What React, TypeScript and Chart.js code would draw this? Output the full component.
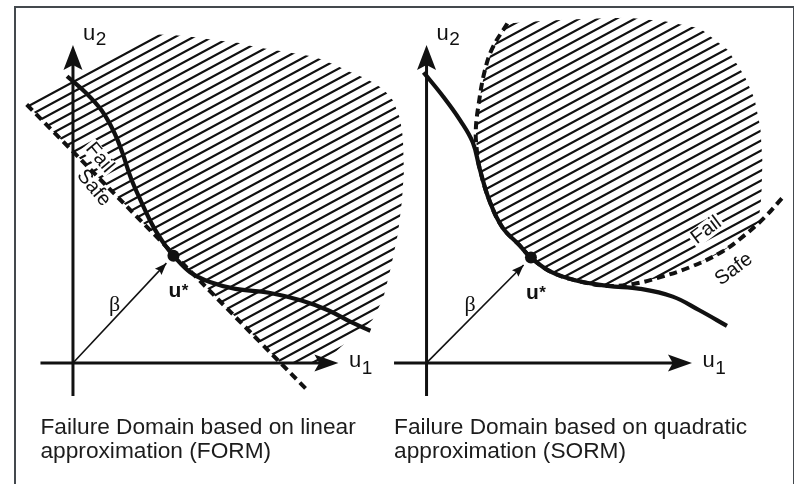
import React, { useEffect, useRef } from "react";
import { Chart, registerables } from "chart.js";

Chart.register(...registerables);

const W = 794;
const H = 484;
const INK = "#111111";
const SANS = '"Liberation Sans", Arial, Helvetica, sans-serif';
const SERIF = '"Liberation Serif", "DejaVu Serif", serif';

// ---------- shared axes (standard normal space u1, u2) ----------
const axisU1Range = [-3.3, 26.95];
const axisU2Range = [-3.4, 32.6];
const betaFraction = 0.93;
const yWindow = [-11.8, 36.6];

// ---------- left panel: FORM ----------
const formXWindow = [-6.8, 72.6];
const formLimitU1 = [-0.6, 1.2, 2.9, 4.2, 5.0, 5.9, 6.9, 8.2, 9.4, 10.2, 11.9, 13.9, 16.5, 19.9, 23.2, 25.9, 28.2, 30.2];
const formLimitU2 = [29.4, 27.8, 25.9, 23.6, 21.6, 18.9, 16.6, 13.9, 12.0, 11.0, 9.3, 8.3, 7.6, 7.2, 6.4, 5.4, 4.2, 3.3];
const formApproxU1 = [-4.7, 23.7];
const formApproxU2 = [26.5, -2.7];
const formDesign = [10.2, 11.0];
const formHatchU1 = [-4.9, 8.1, 10.4, 12.4, 14.5, 16.9, 18.5, 21.5, 24.5, 26.5, 28.2, 29.9, 31.5, 32.5, 33.2, 33.5, 33.6, 33.4, 33.0, 32.3, 31.5, 30.4, 27.7, 25.4, 21.1];
const formHatchU2 = [26.7, 33.7, 33.6, 33.4, 33.1, 32.8, 32.4, 31.9, 31.4, 30.6, 29.8, 29.1, 28.1, 26.9, 25.1, 23.1, 19.6, 16.6, 13.3, 9.9, 6.6, 4.4, 2.1, 0.0, 0.0];
const formFailAt = [2.7, 21.05];
const formSafeAt = [2.1, 17.95];
const formCaption = ["Failure Domain based on linear", "approximation (FORM)"];

// ---------- right panel: SORM ----------
const sormXWindow = [-42.7, 36.7];
const sormLimitU1 = [-0.3, 1.7, 3.4, 4.7, 5.4, 6.4, 7.7, 9.4, 10.6, 12.7, 15.4, 18.4, 21.7, 25.0, 27.7, 30.5];
const sormLimitU2 = [29.8, 27.3, 24.9, 22.6, 19.9, 16.6, 13.9, 12.1, 10.8, 9.3, 8.4, 7.9, 7.6, 6.8, 5.4, 3.8];
const sormApproxU1 = [8.2, 6.7, 5.9, 5.3, 5.0, 5.1, 5.4, 6.4, 7.7, 9.4, 10.6, 12.7, 15.4, 18.4, 21.0, 23.4, 26.7, 30.0, 32.3, 34.3, 36.1];
const sormApproxU2 = [34.8, 32.3, 29.9, 26.6, 23.9, 21.9, 19.9, 16.6, 13.9, 12.1, 10.8, 9.3, 8.4, 7.9, 8.1, 8.7, 9.8, 11.4, 13.1, 14.9, 16.9];
const sormDesign = [10.6, 10.8];
const sormOuterU1 = [33.7, 34.0, 34.1, 33.9, 33.3, 32.3, 30.6, 27.8, 24.3, 20.5, 16.3, 12.0];
const sormOuterU2 = [14.4, 17.1, 20.6, 24.1, 27.1, 29.4, 32.1, 34.3, 35.0, 35.4, 35.3, 35.1];
const sormFailAt = [28.4, 13.6];
const sormSafeAt = [31.2, 9.6];
const sormCaption = ["Failure Domain based on quadratic", "approximation (SORM)"];

// ---------- labels ----------
const u1Label = ["u", "1"];
const u2Label = ["u", "2"];
const betaLabel = "\u03B2";
const designLabel = ["u", "*"];
const failLabel = "Fail";
const safeLabel = "Safe";

type PanelCfg = {
  key: string;
  xWindow: number[];
  limitU1: number[];
  limitU2: number[];
  approxU1: number[];
  approxU2: number[];
  design: number[];
  hatchU1: number[];
  hatchU2: number[];
  failAt: number[];
  safeAt: number[];
  labelAngle: number;
  caption: string[];
};

const formCfg: PanelCfg = {
  key: "form",
  xWindow: formXWindow,
  limitU1: formLimitU1,
  limitU2: formLimitU2,
  approxU1: formApproxU1,
  approxU2: formApproxU2,
  design: formDesign,
  hatchU1: formHatchU1,
  hatchU2: formHatchU2,
  failAt: formFailAt,
  safeAt: formSafeAt,
  labelAngle: 50,
  caption: formCaption,
};

const sormCfg: PanelCfg = {
  key: "sorm",
  xWindow: sormXWindow,
  limitU1: sormLimitU1,
  limitU2: sormLimitU2,
  approxU1: sormApproxU1,
  approxU2: sormApproxU2,
  design: sormDesign,
  hatchU1: sormApproxU1.slice(0, 19).concat(sormOuterU1),
  hatchU2: sormApproxU2.slice(0, 19).concat(sormOuterU2),
  failAt: sormFailAt,
  safeAt: sormSafeAt,
  labelAngle: -37,
  caption: sormCaption,
};

function arrowHead(ctx: CanvasRenderingContext2D, tx: number, ty: number, dx: number, dy: number, len: number, half: number, notch: number) {
  const n = Math.hypot(dx, dy) || 1;
  const ux = dx / n;
  const uy = dy / n;
  const nx = -uy;
  const ny = ux;
  const bx = tx - ux * len;
  const by = ty - uy * len;
  ctx.beginPath();
  ctx.moveTo(tx, ty);
  ctx.lineTo(bx + nx * half, by + ny * half);
  ctx.lineTo(tx - ux * len * (1 - notch), ty - uy * len * (1 - notch));
  ctx.lineTo(bx - nx * half, by - ny * half);
  ctx.closePath();
  ctx.fill();
}

function drawSub(ctx: CanvasRenderingContext2D, main: string, sub: string, x: number, y: number, size: number, subSize: number, drop: number, weight = "normal") {
  ctx.textAlign = "left";
  ctx.textBaseline = "alphabetic";
  ctx.font = `${weight} ${size}px ${SANS}`;
  ctx.fillText(main, x, y);
  const w = ctx.measureText(main).width;
  ctx.font = `${weight} ${subSize}px ${SANS}`;
  ctx.fillText(sub, x + w + 0.5, y + drop);
}

function rotText(ctx: CanvasRenderingContext2D, text: string, x: number, y: number, angle: number, knock: boolean) {
  ctx.save();
  ctx.translate(x, y);
  ctx.rotate((angle * Math.PI) / 180);
  ctx.font = `20px ${SANS}`;
  ctx.textAlign = "center";
  ctx.textBaseline = "middle";
  if (knock) {
    const w = ctx.measureText(text).width;
    ctx.fillStyle = "#ffffff";
    ctx.fillRect(-w / 2 - 2, -9, w + 4, 18);
  } else {
    ctx.fillStyle = INK;
    ctx.fillText(text, 0, 0);
  }
  ctx.restore();
}

function makeDecor(cfg: PanelCfg) {
  return {
    id: "decor-" + cfg.key,
    beforeDatasetsDraw(chart: any) {
      const ctx: CanvasRenderingContext2D = chart.ctx;
      const xs = chart.scales.x;
      const ys = chart.scales.y;
      const px = (u: number) => xs.getPixelForValue(u);
      const py = (v: number) => ys.getPixelForValue(v);
      // hatched failure domain
      ctx.save();
      ctx.beginPath();
      cfg.hatchU1.forEach((u, i) => {
        const X = px(u);
        const Y = py(cfg.hatchU2[i]);
        if (i === 0) ctx.moveTo(X, Y);
        else ctx.lineTo(X, Y);
      });
      ctx.closePath();
      ctx.clip();
      ctx.strokeStyle = INK;
      ctx.lineWidth = 2.2;
      ctx.lineCap = "butt";
      const m = 0.54;
      ctx.beginPath();
      for (let c = 1.5; c < H + m * W + 20; c += 10) {
        ctx.moveTo(0, c);
        ctx.lineTo(W, c - m * W);
      }
      ctx.stroke();
      ctx.restore();
      // knock-outs behind the Fail / Safe words
      rotText(ctx, failLabel, px(cfg.failAt[0]), py(cfg.failAt[1]), cfg.labelAngle, true);
      rotText(ctx, safeLabel, px(cfg.safeAt[0]), py(cfg.safeAt[1]), cfg.labelAngle, true);
    },
    afterDatasetsDraw(chart: any) {
      const ctx: CanvasRenderingContext2D = chart.ctx;
      const xs = chart.scales.x;
      const ys = chart.scales.y;
      const px = (u: number) => xs.getPixelForValue(u);
      const py = (v: number) => ys.getPixelForValue(v);
      ctx.save();
      ctx.fillStyle = INK;
      // axis arrows
      const t1x = px(axisU1Range[1]);
      const t1y = py(0);
      arrowHead(ctx, t1x, t1y, 1, 0, 24, 8.5, 0.2);
      const t2x = px(0);
      const t2y = py(axisU2Range[1]);
      arrowHead(ctx, t2x, t2y, 0, -1, 25, 9.5, 0.2);
      // beta arrow
      const ox = px(0);
      const oy = py(0);
      const bx = px(cfg.design[0] * betaFraction);
      const by = py(cfg.design[1] * betaFraction);
      arrowHead(ctx, bx, by, bx - ox, by - oy, 12, 4.5, 0.15);
      // axis labels
      drawSub(ctx, u1Label[0], u1Label[1], t1x + 10.5, t1y + 4.5, 22, 19, 6.5);
      drawSub(ctx, u2Label[0], u2Label[1], t2x + 10, t2y - 5, 22, 19, 5);
      // beta label
      ctx.font = `22px ${SERIF}`;
      ctx.textAlign = "center";
      ctx.textBaseline = "alphabetic";
      ctx.fillText(betaLabel, (ox + bx) / 2 - 5, (oy + by) / 2 - 2.5);
      // design point label
      const dx = px(cfg.design[0]);
      const dy = py(cfg.design[1]);
      drawSub(ctx, designLabel[0], designLabel[1], dx - 5, dy + 41, 21, 17, -1, "bold");
      // Fail / Safe
      rotText(ctx, failLabel, px(cfg.failAt[0]), py(cfg.failAt[1]), cfg.labelAngle, false);
      rotText(ctx, safeLabel, px(cfg.safeAt[0]), py(cfg.safeAt[1]), cfg.labelAngle, false);
      // caption
      ctx.fillStyle = "#1c1c1c";
      ctx.font = `22.7px ${SANS}`;
      ctx.textAlign = "left";
      ctx.textBaseline = "alphabetic";
      const cx = px(axisU1Range[0]);
      ctx.fillText(cfg.caption[0], cx, 434);
      ctx.fillText(cfg.caption[1], cx, 458);
      ctx.restore();
    },
  };
}

function Panel({ cfg }: { cfg: PanelCfg }) {
  const ref = useRef<HTMLCanvasElement>(null);
  useEffect(() => {
    const canvas = ref.current;
    if (!canvas) return;
    const pts = (a: number[], b: number[]) => a.map((u, i) => ({ x: u, y: b[i] }));
    const beta = [cfg.design[0] * betaFraction, cfg.design[1] * betaFraction];
    const line = { showLine: true, pointRadius: 0, borderColor: INK, backgroundColor: INK, clip: false as any };
    const chart = new Chart(canvas, {
      type: "scatter",
      data: {
        datasets: [
          { label: "design point", data: [{ x: cfg.design[0], y: cfg.design[1] }], showLine: false, pointRadius: 6, pointBackgroundColor: INK, pointBorderColor: INK, pointBorderWidth: 0, clip: false as any },
          { ...line, label: "limit state", data: pts(cfg.limitU1, cfg.limitU2), borderWidth: 4.2, tension: 0.4, borderJoinStyle: "round" },
          { ...line, label: "approximation", data: pts(cfg.approxU1, cfg.approxU2), borderWidth: 4, borderDash: [8, 5], tension: 0.4 },
          { ...line, label: "beta", data: [{ x: 0, y: 0 }, { x: beta[0], y: beta[1] }], borderWidth: 1.6 },
          { ...line, label: "u1 axis", data: [{ x: axisU1Range[0], y: 0 }, { x: axisU1Range[1] - 1, y: 0 }], borderWidth: 3 },
          { ...line, label: "u2 axis", data: [{ x: 0, y: axisU2Range[0] }, { x: 0, y: axisU2Range[1] - 1 }], borderWidth: 3 },
        ] as any,
      },
      options: {
        animation: false,
        responsive: false,
        events: [],
        layout: { padding: 0 },
        plugins: { legend: { display: false }, tooltip: { enabled: false }, title: { display: false } },
        scales: {
          x: { type: "linear", display: false, bounds: "data", min: cfg.xWindow[0], max: cfg.xWindow[1] },
          y: { type: "linear", display: false, bounds: "data", min: yWindow[0], max: yWindow[1] },
        },
      },
      plugins: [makeDecor(cfg)],
    });
    return () => chart.destroy();
  }, [cfg]);
  return <canvas ref={ref} width={W} height={H} style={{ position: "absolute", left: 0, top: 0 }} />;
}

export default function App() {
  return (
    <div style={{ position: "absolute", left: 0, top: 0, width: W, height: H, background: "#fff", overflow: "hidden" }}>
      <div style={{ position: "absolute", left: 14, top: 6, width: 777, height: 490, border: "2px solid #44494e", borderBottom: "none" }} />
      <Panel cfg={formCfg} />
      <Panel cfg={sormCfg} />
    </div>
  );
}
